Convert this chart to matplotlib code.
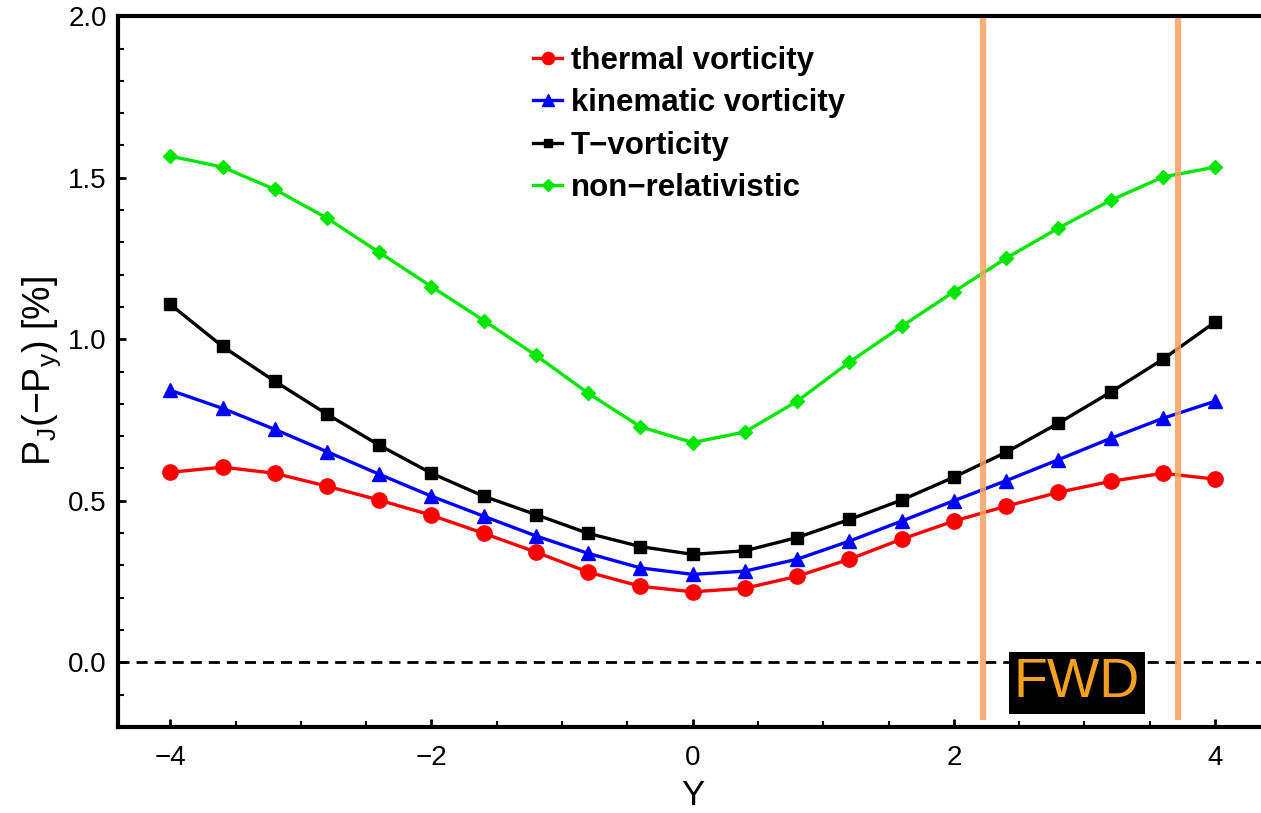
import matplotlib.pyplot as plt
from matplotlib.ticker import MultipleLocator

plt.rcParams['font.family'] = ['Liberation Sans', 'DejaVu Sans']
plt.rcParams['mathtext.fontset'] = 'custom'
plt.rcParams['mathtext.rm'] = 'Liberation Sans'

rapidity = [-4.0, -3.6, -3.2, -2.8, -2.4, -2.0, -1.6, -1.2, -0.8, -0.4, 0.0,
            0.4, 0.8, 1.2, 1.6, 2.0, 2.4, 2.8, 3.2, 3.6, 4.0]

thermal = [0.588, 0.604, 0.585, 0.545, 0.502, 0.455, 0.399, 0.341, 0.279, 0.235, 0.218,
           0.229, 0.266, 0.319, 0.381, 0.437, 0.483, 0.526, 0.560, 0.585, 0.567]
kinematic = [0.842, 0.786, 0.721, 0.652, 0.582, 0.514, 0.452, 0.391, 0.337, 0.292, 0.272,
             0.282, 0.319, 0.375, 0.437, 0.500, 0.562, 0.627, 0.693, 0.755, 0.808]
t_vort = [1.108, 0.978, 0.870, 0.768, 0.672, 0.585, 0.514, 0.457, 0.399, 0.358, 0.334,
          0.345, 0.386, 0.442, 0.502, 0.573, 0.650, 0.740, 0.836, 0.938, 1.053]
nonrel = [1.567, 1.533, 1.464, 1.375, 1.269, 1.163, 1.058, 0.950, 0.833, 0.729, 0.680,
          0.713, 0.808, 0.929, 1.040, 1.147, 1.251, 1.344, 1.430, 1.502, 1.533]

fwd_edges = [2.22, 3.72]

fig = plt.figure(figsize=(12.61, 8.13), dpi=100)
ax = fig.add_axes([0.0936, 0.106, 0.9114, 0.874])

ax.axhline(0, color='black', linestyle=(0, (4, 2.5)), linewidth=2, zorder=1)

ax.plot(rapidity, thermal, color='#ff0000', marker='o', markersize=11, linewidth=2.4,
        label='thermal vorticity', zorder=3)
ax.plot(rapidity, kinematic, color='#0000ff', marker='^', markersize=10, linewidth=2.4,
        label='kinematic vorticity', zorder=3)
ax.plot(rapidity, t_vort, color='black', marker='s', markersize=8, linewidth=2.4,
        label='T\u2212vorticity', zorder=3)
ax.plot(rapidity, nonrel, color='#00e600', marker='D', markersize=7.5, linewidth=2.4,
        label='non\u2212relativistic', zorder=3)

for xe in fwd_edges:
    ax.plot([xe, xe], [-0.18, 1.995], color='#f5a25d', alpha=0.85, linewidth=4.5,
            solid_capstyle='butt', zorder=4)

ax.text(2.94, -0.065, 'FWD', color='#f5a01e', fontsize=40, ha='center', va='center',
        bbox=dict(facecolor='black', edgecolor='none', pad=3.5), zorder=5)

ax.set_xlim(-4.4, 4.4)
ax.set_ylim(-0.2, 2.0)
ax.xaxis.set_minor_locator(MultipleLocator(0.5))
ax.yaxis.set_minor_locator(MultipleLocator(0.1))
ax.set_xticks([-4, -2, 0, 2, 4])
ax.set_xticklabels(['\u22124', '\u22122', '0', '2', '4'])
ax.set_yticks([0.0, 0.5, 1.0, 1.5, 2.0])
ax.set_yticklabels(['0.0', '0.5', '1.0', '1.5', '2.0'])
ax.tick_params(which='major', direction='in', length=6, width=2, labelsize=20, pad=8)
ax.tick_params(axis='x', which='major', pad=13)
ax.tick_params(which='minor', direction='in', length=4, width=1.5)
for side in ['left', 'bottom', 'top']:
    ax.spines[side].set_linewidth(3)
ax.spines['right'].set_visible(False)

ax.set_xlabel('Y', fontsize=25, labelpad=6)
ax.set_ylabel('P$_\\mathregular{J}$(\u2212P$_\\mathregular{y}$) [%]', fontsize=27, labelpad=4)

leg = ax.legend(loc='upper left', bbox_to_anchor=(0.337, 0.998), frameon=False,
                prop={'weight': 'bold', 'size': 22.5}, handlelength=0.9, handletextpad=0.3,
                labelspacing=0.4, markerscale=0.8)

fig.savefig('out.png', dpi=100)
